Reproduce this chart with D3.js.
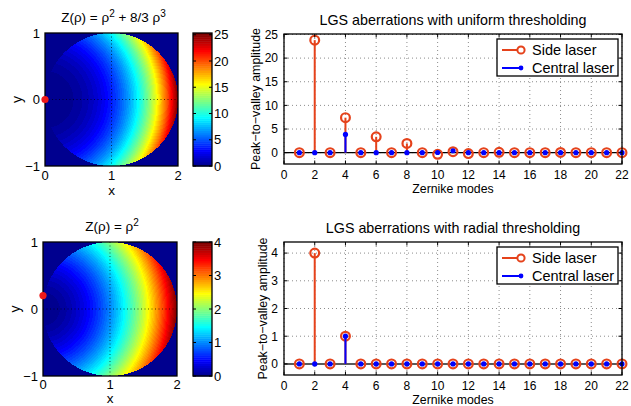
<!DOCTYPE html>
<html>
<head>
<meta charset="utf-8">
<script src="https://cdn.jsdelivr.net/npm/d3@7"></script>
<style>
  body { margin: 0; background: #fff; }
  svg { display: block; }
  text { font-family: "Liberation Sans", Arial, Helvetica, sans-serif; fill: #000; }
</style>
</head>
<body>
<svg id="fig" width="631" height="406"></svg>
<script>
// ---- Data -------------------------------------------------------------
const modes = d3.range(1, 23);                       // Zernike modes 1..22
const uniformSide    = [0, 23.8, 0, 7.4, 0, 3.35, 0, 1.95, 0, -0.35, 0.2, -0.2, 0, 0.08, 0, 0, 0, 0.04, 0, 0, 0, 0];
const uniformCentral = [0, 0, 0, 3.85, 0, 0, 0, 0, 0, 0.03, 0.4, 0, 0, 0, 0, 0, 0, 0, 0, 0, 0, 0];
const radialSide     = [0, 4, 0, 1, 0, 0, 0, 0, 0, 0, 0, 0, 0, 0, 0, 0, 0, 0, 0, 0, 0, 0];
const radialCentral  = [0, 0, 0, 1, 0, 0, 0, 0, 0, 0, 0, 0, 0, 0, 0, 0, 0, 0, 0, 0, 0, 0];
const modeTicks      = d3.range(0, 23, 2);
const uniformYTicks  = [0, 5, 10, 15, 20, 25];
const radialYTicks   = [0, 1, 2, 3, 4];
const legendLabels   = ["Side laser", "Central laser"];

// wavefront maps over the pupil (x in [0,2], y in [-1,1])
const pupilXTicks = [0, 1, 2];
const pupilYTicks = [-1, 0, 1];
const cubicLaser = [0, 0];      // laser launch position (x, y)
const quadLaser  = [0, 0.2];
const cubicBarTicks = [0, 5, 10, 15, 20, 25];
const quadBarTicks  = [0, 1, 2, 3, 4];
const cubicZ = r => r * r + 8 / 3 * r * r * r;
const quadZ  = r => r * r;

const SIDE = "#e5421b", CENTRAL = "#0000ff";
const svg = d3.select("#fig");

// MATLAB-style jet colormap with 64 entries
function jet(m) {
  const n = Math.ceil(m / 4);
  const u = [];
  for (let i = 1; i <= n; i++) u.push(i / n);
  for (let i = 1; i < n; i++) u.push(1);
  for (let i = n; i >= 1; i--) u.push(i / n);
  const g0 = Math.ceil(n / 2) - (m % 4 === 1 ? 1 : 0);
  const J = d3.range(m).map(() => [0, 0, 0]);
  u.forEach((v, k) => {
    const g = g0 + k + 1, r = g + n, b = g - n;
    if (r <= m) J[r - 1][0] = v;
    if (g >= 1 && g <= m) J[g - 1][1] = v;
    if (b >= 1) J[b - 1][2] = v;
  });
  return J.map(c => d3.rgb(c[0] * 255, c[1] * 255, c[2] * 255));
}
const cmap = jet(64);

// ---- Wavefront map panel ----------------------------------------------
function mapPanel(o) {
  const x = d3.scaleLinear().domain([0, 2]).range([o.left, o.right]);
  const y = d3.scaleLinear().domain([-1, 1]).range([o.bottom, o.top]);
  const c = d3.scaleLinear().domain([0, o.cmax]).range([0, 64]);
  const w = Math.round(o.right - o.left), h = Math.round(o.bottom - o.top);

  // raster of Z over the pupil, quantised to the colormap
  const cv = document.createElement("canvas");
  cv.width = w; cv.height = h;
  const ctx = cv.getContext("2d");
  const img = ctx.createImageData(w, h);
  for (let j = 0; j < h; j++) {
    for (let i = 0; i < w; i++) {
      const px = x.invert(o.left + i + 0.5), py = y.invert(o.top + j + 0.5);
      let idx = 0;
      if ((px - 1) * (px - 1) + py * py <= 1) {
        idx = Math.max(0, Math.min(63, Math.floor(c(o.z(Math.hypot(px, py))))));
      }
      const col = cmap[idx], p = (j * w + i) * 4;
      img.data[p] = col.r; img.data[p + 1] = col.g; img.data[p + 2] = col.b; img.data[p + 3] = 255;
    }
  }
  ctx.putImageData(img, 0, 0);
  svg.append("image").attr("href", cv.toDataURL())
    .attr("x", o.left).attr("y", o.top).attr("width", w).attr("height", h)
    .attr("preserveAspectRatio", "none");

  // dotted grid at the pupil centre
  const g = svg.append("g");
  g.append("line").attr("x1", x(1)).attr("x2", x(1)).attr("y1", o.top).attr("y2", o.bottom)
    .attr("stroke", "#000").attr("stroke-opacity", 0.65).attr("stroke-dasharray", "1 2.5");
  g.append("line").attr("x1", o.left).attr("x2", o.right).attr("y1", y(0)).attr("y2", y(0))
    .attr("stroke", "#000").attr("stroke-opacity", 0.65).attr("stroke-dasharray", "1 2.5");

  g.append("rect").attr("x", o.left).attr("y", o.top).attr("width", o.right - o.left)
    .attr("height", o.bottom - o.top).attr("fill", "none").attr("stroke", "#000").attr("stroke-width", 1.3);

  pupilXTicks.forEach(t => {
    g.append("text").attr("x", x(t)).attr("y", o.bottom + o.tickGap).attr("text-anchor", "middle")
      .attr("font-size", 13).text(t < 0 ? "\u2212" + (-t) : t);
  });
  pupilYTicks.forEach(t => {
    g.append("text").attr("x", o.left - 5).attr("y", y(t) + 4.5).attr("text-anchor", "end")
      .attr("font-size", 13).text(t < 0 ? "\u2212" + (-t) : t);
  });
  g.append("text").attr("x", (o.left + o.right) / 2).attr("y", o.bottom + o.labelGap)
    .attr("text-anchor", "middle").attr("font-size", 13.5).text("x");
  g.append("text").attr("transform", `translate(${o.left - 28},${y(0)}) rotate(-90)`)
    .attr("dy", "0.35em").attr("text-anchor", "middle").attr("font-size", 14).text("y");

  // title with superscripts
  const tt = g.append("text").attr("x", (o.left + o.right) / 2 + 2).attr("y", o.top - 11)
    .attr("text-anchor", "middle").attr("font-size", 13.5);
  o.title.forEach(part => {
    const s = tt.append("tspan").text(part[0]);
    if (part[1]) s.attr("dy", -5).attr("font-size", 10);
    if (part[2]) s.attr("dy", 5);
  });

  // laser position
  g.append("circle").attr("cx", x(o.laser[0])).attr("cy", y(o.laser[1])).attr("r", 3.6)
    .attr("fill", "#f01a1a");

  // colorbar
  const cb = d3.scaleLinear().domain([0, o.cmax]).range([o.bottom, o.top]);
  const levels = d3.range(64);
  g.selectAll(null).data(levels).join("rect")
    .attr("x", o.cbLeft).attr("width", o.cbRight - o.cbLeft)
    .attr("y", k => cb((k + 1) * o.cmax / 64))
    .attr("height", k => cb(k * o.cmax / 64) - cb((k + 1) * o.cmax / 64) + 0.5)
    .attr("fill", k => cmap[k]);
  g.append("rect").attr("x", o.cbLeft).attr("y", o.top).attr("width", o.cbRight - o.cbLeft)
    .attr("height", o.bottom - o.top).attr("fill", "none").attr("stroke", "#000").attr("stroke-width", 1.3);
  o.barTicks.forEach(t => {
    g.append("line").attr("x1", o.cbRight - 3).attr("x2", o.cbRight).attr("y1", cb(t)).attr("y2", cb(t)).attr("stroke", "#000");
    g.append("line").attr("x1", o.cbLeft).attr("x2", o.cbLeft + 3).attr("y1", cb(t)).attr("y2", cb(t)).attr("stroke", "#000");
    g.append("text").attr("x", o.cbRight + 2).attr("y", cb(t) + 4.5).attr("font-size", 13).text(t);
  });
}

// ---- Stem panel ---------------------------------------------------------
function stemPanel(o) {
  const x = d3.scaleLinear().domain([0, 22]).range([o.left, o.right]);
  const y = d3.scaleLinear().domain(o.ydom).range([o.bottom, o.top]);
  const g = svg.append("g");

  // grid
  modeTicks.forEach(t => g.append("line").attr("x1", x(t)).attr("x2", x(t)).attr("y1", o.top).attr("y2", o.bottom)
    .attr("stroke", "#8c8c8c").attr("stroke-dasharray", "1 3"));
  o.yticks.forEach(t => g.append("line").attr("x1", o.left).attr("x2", o.right).attr("y1", y(t)).attr("y2", y(t))
    .attr("stroke", "#8c8c8c").attr("stroke-dasharray", "1 3"));

  // baseline
  g.append("line").attr("x1", o.left).attr("x2", o.right).attr("y1", y(0)).attr("y2", y(0))
    .attr("stroke", o.baseColor).attr("stroke-width", o.baseWidth);

  // side laser stems
  g.selectAll(null).data(modes).join("line")
    .attr("x1", d => x(d)).attr("x2", d => x(d))
    .attr("y1", y(0)).attr("y2", (d, i) => y(o.side[i]))
    .attr("stroke", SIDE).attr("stroke-width", 2);
  g.selectAll(null).data(modes).join("circle")
    .attr("cx", d => x(d)).attr("cy", (d, i) => y(o.side[i])).attr("r", 4.4)
    .attr("fill", "none").attr("stroke", SIDE).attr("stroke-width", 2.2);

  // central laser stems
  g.selectAll(null).data(modes).join("line")
    .attr("x1", d => x(d)).attr("x2", d => x(d))
    .attr("y1", y(0)).attr("y2", (d, i) => y(o.central[i]))
    .attr("stroke", CENTRAL).attr("stroke-width", 2);
  g.selectAll(null).data(modes).join("circle")
    .attr("cx", d => x(d)).attr("cy", (d, i) => y(o.central[i])).attr("r", 2.6)
    .attr("fill", CENTRAL);

  // box and inward ticks
  g.append("rect").attr("x", o.left).attr("y", o.top).attr("width", o.right - o.left)
    .attr("height", o.bottom - o.top).attr("fill", "none").attr("stroke", "#000").attr("stroke-width", 1.3);
  modeTicks.forEach(t => {
    g.append("line").attr("x1", x(t)).attr("x2", x(t)).attr("y1", o.bottom).attr("y2", o.bottom - 3.5).attr("stroke", "#000");
    g.append("line").attr("x1", x(t)).attr("x2", x(t)).attr("y1", o.top).attr("y2", o.top + 3.5).attr("stroke", "#000");
    g.append("text").attr("x", x(t)).attr("y", o.bottom + 15).attr("text-anchor", "middle")
      .attr("font-size", 12).text(t);
  });
  o.yticks.forEach(t => {
    g.append("line").attr("x1", o.left).attr("x2", o.left + 3.5).attr("y1", y(t)).attr("y2", y(t)).attr("stroke", "#000");
    g.append("line").attr("x1", o.right).attr("x2", o.right - 3.5).attr("y1", y(t)).attr("y2", y(t)).attr("stroke", "#000");
    g.append("text").attr("x", o.left - 6).attr("y", y(t) + 4.3).attr("text-anchor", "end")
      .attr("font-size", 12).text(t);
  });

  g.append("text").attr("x", (o.left + o.right) / 2).attr("y", o.bottom + 29)
    .attr("text-anchor", "middle").attr("font-size", 12.3).text("Zernike modes");
  g.append("text").attr("transform", `translate(${o.ylabelX},${(o.top + o.bottom) / 2}) rotate(-90)`)
    .attr("dy", "0.35em").attr("text-anchor", "middle").attr("font-size", 12.4)
    .text("Peak\u2212to\u2212valley amplitude");
  g.append("text").attr("x", (o.left + o.right) / 2).attr("y", o.top - 9)
    .attr("text-anchor", "middle").attr("font-size", 14.3).text(o.title);

  // legend
  const lx = 497, ly = o.top + 5, lw = 121, lh = 37;
  const lg = g.append("g");
  lg.append("rect").attr("x", lx).attr("y", ly).attr("width", lw).attr("height", lh)
    .attr("fill", "#fff").attr("stroke", "#000").attr("stroke-width", 1.3);
  [SIDE, CENTRAL].forEach((col, k) => {
    const yy = ly + 11 + k * 18;
    lg.append("line").attr("x1", lx + 5).attr("x2", lx + 24).attr("y1", yy).attr("y2", yy)
      .attr("stroke", col).attr("stroke-width", 2);
    if (k === 0) lg.append("circle").attr("cx", lx + 24).attr("cy", yy).attr("r", 3.6)
      .attr("fill", "#fff").attr("stroke", col).attr("stroke-width", 2);
    else lg.append("circle").attr("cx", lx + 24).attr("cy", yy).attr("r", 2.4).attr("fill", col);
    lg.append("text").attr("x", lx + 35).attr("y", yy + 5).attr("font-size", 14.5).text(legendLabels[k]);
  });
}

// ---- Layout -------------------------------------------------------------
mapPanel({
  left: 45, right: 178, top: 33, bottom: 166, cbLeft: 193, cbRight: 212, tickGap: 14, labelGap: 29,
  z: cubicZ, cmax: 4 + 64 / 3, laser: cubicLaser, barTicks: cubicBarTicks,
  title: [["Z(\u03C1) = \u03C1"], ["2", true], [" + 8/3 \u03C1", false, true], ["3", true]]
});
mapPanel({
  left: 43, right: 177, top: 242, bottom: 376, cbLeft: 193, cbRight: 212, tickGap: 13, labelGap: 27.3,
  z: quadZ, cmax: 4, laser: quadLaser, barTicks: quadBarTicks,
  title: [["Z(\u03C1) = \u03C1"], ["2", true]]
});
stemPanel({
  left: 284, right: 622, top: 34, bottom: 164, ydom: [-2.4, 25.1], yticks: uniformYTicks,
  side: uniformSide, central: uniformCentral, baseColor: "#000", baseWidth: 1.4, ylabelX: 256,
  title: "LGS aberrations with uniform thresholding"
});
stemPanel({
  left: 284, right: 622, top: 242, bottom: 375, ydom: [-0.4, 4.4], yticks: radialYTicks,
  side: radialSide, central: radialCentral, baseColor: "#5a5a5a", baseWidth: 2, ylabelX: 263,
  title: "LGS aberrations with radial thresholding"
});
</script>
</body>
</html>
